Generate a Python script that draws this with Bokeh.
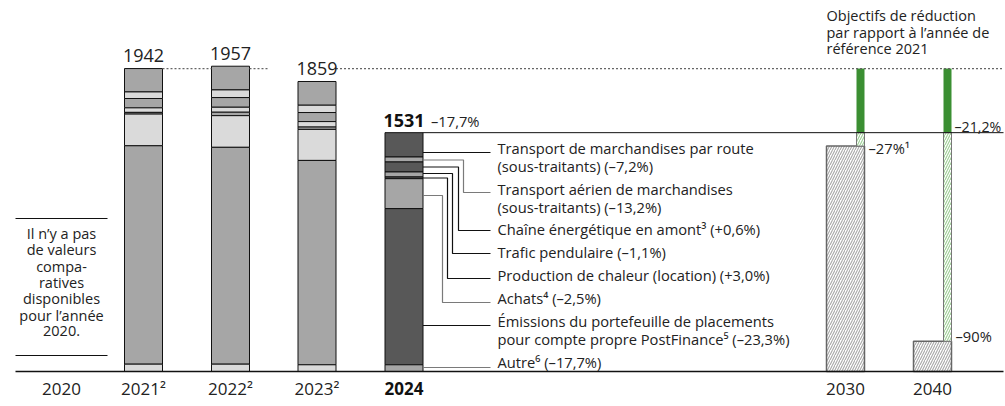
from bokeh.plotting import figure
from bokeh.models import Range1d
from bokeh.core.properties import value
from bokeh.embed import file_html
from bokeh.resources import INLINE
import numpy as np

# ---------------- data ----------------
years = ["2021", "2022", "2023", "2024"]
year_labels = ["2021²", "2022²", "2023²", "2024"]
totals = [1942, 1957, 1859, 1531]

# segments (top of stack first)
route = [150, 152, 152, 156]
aerien = [42, 49, 47, 32]
chaine = [60, 62, 58, 64]
pendulaire = [29, 32, 35, 32]
chaleur = [11, 22, 15, 11]
achats = [203, 203, 199, 192]
emissions = [1400, 1390, 1310, 1001]
autre = [47, 47, 43, 43]

categories = [
    ["Transport de marchandises par route", "(sous-traitants)"],
    ["Transport aérien de marchandises", "(sous-traitants)"],
    ["Chaîne énergétique en amont³"],
    ["Trafic pendulaire"],
    ["Production de chaleur (location)"],
    ["Achats⁴"],
    ["Émissions du portefeuille de placements", "pour compte propre PostFinance⁵"],
    ["Autre⁶"],
]
changes = ["–7,2%", "–13,2%", "+0,6%", "–1,1%", "+3,0%", "–2,5%", "–23,3%", "–17,7%"]
change_2024 = "–17,7%"

target_years = ["2030", "2040"]
target_values = [1445, 194]
target_labels = ["–27%¹", "–90%"]
reduction_label = "–21,2%"
reference_value = 1942

note_lines = ["Il n’y a pas", "de valeurs", "compa-", "ratives", "disponibles", "pour l’année", "2020."]
header_lines = ["Objectifs de réduction", "par rapport à l’année de", "référence  2021"]

# ---------------- layout ----------------
W, H = 1005, 400
PX = 0.156           # px per unit
BASE = 371           # image y of zero line
X0 = 0               # image x of left figure edge
Y_TOP = 0


def yd(img_y):
    return (BASE - img_y) / PX


def dd(px):
    return px / PX


x_centers = [143, 230, 316.5, 403.5]
x_targets = [845, 932]
x_2020 = 61
bw = 38
strip_w = 8
FONT = value("Open Sans")
TXT = "#222222"
LEG_FS = "14.7px"
RIGHT_END = 1003

p = figure(width=W, height=H, x_range=Range1d(X0, X0 + W),
           y_range=Range1d(yd(Y_TOP + H), yd(Y_TOP)),
           output_backend="svg", toolbar_location=None, min_border=0,
           x_axis_type=None, y_axis_type=None)
p.grid.visible = False
p.outline_line_color = None

# ---------------- stacked bars ----------------
segs = [route, aerien, chaine, pendulaire, chaleur, achats, emissions, autre]
dark_flags = [True, False, True, False, True, False, True, False]
L, R, B, T, C = [], [], [], [], []
for j, xc in enumerate(x_centers):
    vals = [s[j] for s in segs]
    tops = np.cumsum(vals[::-1])[::-1]
    for k, v in enumerate(vals):
        top = tops[k]
        bot = top - v
        if j == 3:
            col = "#585858" if dark_flags[k] else "#a6a6a6"
        else:
            col = "#a6a6a6" if dark_flags[k] else "#dadada"
        L.append(xc - bw / 2); R.append(xc + bw / 2); B.append(bot); T.append(top); C.append(col)
p.quad(left=L, right=R, bottom=B, top=T, fill_color=C, line_color="#111111", line_width=1)

# ---------------- targets ----------------
p.quad(left=[x - bw / 2 for x in x_targets], right=[x + bw / 2 for x in x_targets],
       bottom=[0, 0], top=target_values, fill_color="white", hatch_pattern="/",
       hatch_color="#a8a8a8", hatch_scale=5, hatch_weight=1.1,
       line_color="#666666", line_width=1.5)
p.quad(left=[x + bw / 2 - strip_w for x in x_targets], right=[x + bw / 2 for x in x_targets],
       bottom=[totals[3]] * 2, top=[reference_value] * 2,
       fill_color="#3b8f32", line_color=None)
p.quad(left=[x + bw / 2 - strip_w for x in x_targets], right=[x + bw / 2 for x in x_targets],
       bottom=target_values, top=[totals[3]] * 2, fill_color="white", hatch_pattern="/",
       hatch_color="#9ccf94", hatch_scale=5, hatch_weight=1.1,
       line_color="#777777", line_width=1)

# ---------------- reference lines ----------------
xs_dot = [[x_centers[0] + bw / 2, x_centers[1] - bw / 2],
          [x_centers[1] + bw / 2, x_centers[1] + bw / 2 + 19],
          [x_centers[2] + bw / 2, RIGHT_END]]
p.multi_line(xs=xs_dot, ys=[[reference_value] * 2] * 3, line_color="#666666",
             line_width=1.2, line_dash="2 2")
p.segment(x0=[x_centers[3] + bw / 2], y0=[totals[3]], x1=[RIGHT_END], y1=[totals[3]],
          line_color="#111111", line_width=1)
# baseline
p.segment(x0=[15], y0=[0], x1=[RIGHT_END], y1=[0], line_color="#111111", line_width=1.5)

# note box lines
p.segment(x0=[15, 15], y0=[yd(218), yd(355)], x1=[107, 107], y1=[yd(218), yd(355)],
          line_color="#111111", line_width=1)

# ---------------- totals ----------------
lab_y = [totals[0] + dd(13), totals[1] + dd(13), reference_value]
p.text(x=x_centers[:3], y=lab_y, text=[str(t) for t in totals[:3]], text_font=FONT,
       text_font_size="18px", text_align="center", text_baseline="middle", text_color=TXT)
p.text(x=[x_centers[3]], y=[totals[3] + dd(12)], text=[str(totals[3])], text_font=FONT,
       text_font_size="18px", text_font_style="bold", text_align="center",
       text_baseline="middle", text_color="#111111")
p.text(x=[x_centers[3] + 27], y=[totals[3] + dd(12)], text=[change_2024], text_font=FONT,
       text_font_size=LEG_FS, text_align="left", text_baseline="middle", text_color=TXT)

# ---------------- x labels ----------------
p.text(x=[x_2020] + x_centers[:3] + x_targets, y=[yd(388)] * 6,
       text=["2020"] + year_labels[:3] + target_years, text_font=FONT, text_font_size="17px",
       text_align="center", text_baseline="middle", text_color=TXT)
p.text(x=[x_centers[3]], y=[yd(388)], text=[year_labels[3]], text_font=FONT,
       text_font_size="17px", text_font_style="bold", text_align="center",
       text_baseline="middle", text_color="#111111")

# ---------------- legend with leader lines ----------------
row_y = [[147, 165], [188, 206], [228], [251], [274], [297], [320, 338], [361]]
lead_start = [152, 159.5, 166.5, 173, 177.5, 195, 325, 367]
lead_end = [152, 192, 230, 253, 278, 302, 325, 367]
lead_elbow = [None, 463, 458, 452, 447, 442, None, None]
lead_col = ["#111111", "#7a7a7a", "#111111", "#111111", "#111111", "#7a7a7a", "#111111", "#7a7a7a"]
tx, ty, tt = [], [], []
for i, lines in enumerate(categories):
    for k, line in enumerate(lines):
        s = line
        if k == len(lines) - 1:
            s = f"{line} ({changes[i]})"
        tx.append(497); ty.append(yd(row_y[i][k])); tt.append(s)
p.text(x=tx, y=ty, text=tt, text_font=FONT, text_font_size=LEG_FS, text_align="left",
       text_baseline="middle", text_color=TXT)
bar_r = x_centers[3] + bw / 2
lxs, lys = [], []
for i in range(len(categories)):
    if lead_elbow[i] is None:
        lxs.append([bar_r, 490]); lys.append([yd(lead_start[i]), yd(lead_end[i])])
    else:
        e = lead_elbow[i]
        lxs.append([bar_r, e, e, 490])
        lys.append([yd(lead_start[i]), yd(lead_start[i]), yd(lead_end[i]), yd(lead_end[i])])
p.multi_line(xs=lxs, ys=lys, line_color=lead_col, line_width=1.2)

# ---------------- target labels ----------------
p.text(x=[x_targets[0] + bw / 2 + 4, x_targets[1] + bw / 2 + 4],
       y=[target_values[0] - dd(2), target_values[1] + dd(5)], text=target_labels,
       text_font=FONT, text_font_size=LEG_FS, text_align="left", text_baseline="middle",
       text_color=TXT)
p.text(x=[x_targets[1] + bw / 2 + 3], y=[totals[3] + dd(6)], text=[reduction_label],
       text_font=FONT, text_font_size="14.2px", text_align="left", text_baseline="middle",
       text_color=TXT)

# ---------------- note and header ----------------
p.text(x=[x_2020] * len(note_lines), y=[yd(233 + 16.3 * i) for i in range(len(note_lines))],
       text=note_lines, text_font=FONT, text_font_size="14.5px", text_align="center",
       text_baseline="middle", text_color=TXT)
p.text(x=[826] * 3, y=[yd(15), yd(32), yd(48)], text=header_lines, text_font=FONT,
       text_font_size="14.5px", text_align="left", text_baseline="middle", text_color=TXT)

open("out.html", "w").write(file_html(p, INLINE))
